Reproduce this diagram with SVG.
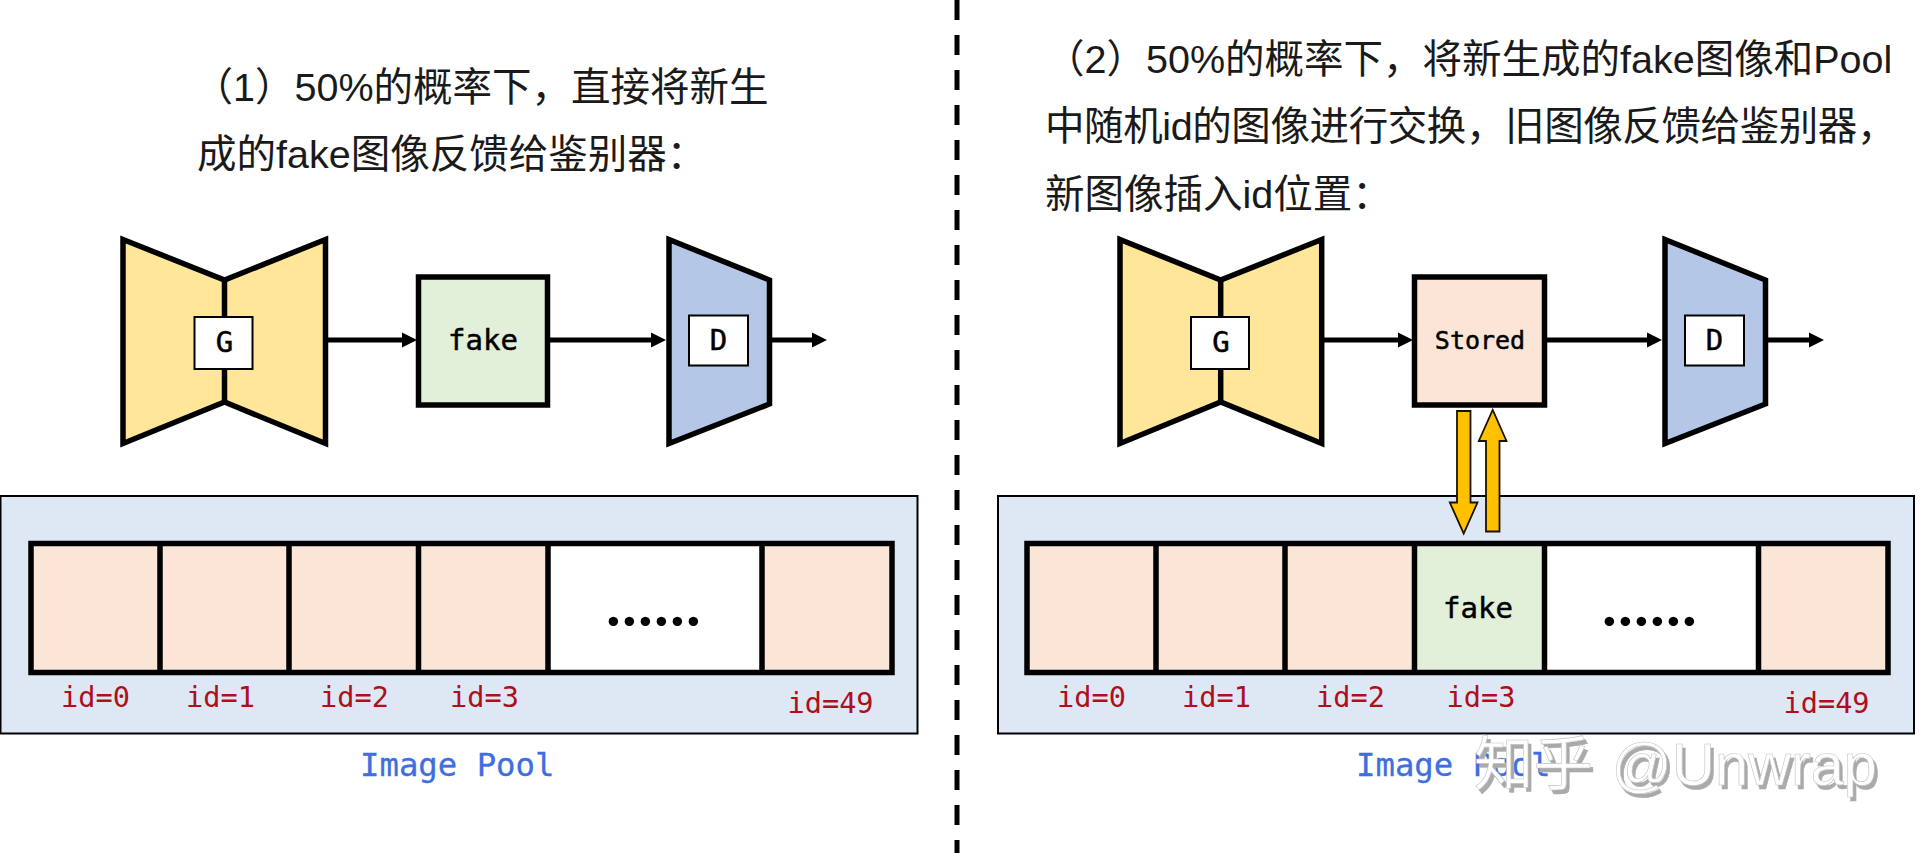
<svg xmlns="http://www.w3.org/2000/svg" width="1928" height="853" viewBox="0 0 1928 853">
<style>
.title{font-family:"Liberation Sans","Noto Sans CJK SC",sans-serif;font-size:39.5px;fill:#1a1a1a}
.net{stroke:#000;stroke-width:5.5;stroke-linejoin:miter;stroke-miterlimit:8}
.gen{fill:#FFE699}.dis{fill:#B4C7E7}
.lab{fill:#fff;stroke:#000;stroke-width:2}
.box{stroke:#000;stroke-width:5.5}
.peach{fill:#FBE5D6}.green{fill:#E2F0D9}.white{fill:#fff}
.panel{fill:#DEE8F5;stroke:#000;stroke-width:2}
.mono{font-family:"DejaVu Sans Mono",monospace;text-anchor:middle;fill:#000;stroke:#000;stroke-width:.5}
.k{font-size:29px}
.s{font-size:25px}
.id{font-family:"DejaVu Sans Mono",monospace;font-size:28.6px;fill:#AE0F1A}
.pool{font-family:"DejaVu Sans Mono",monospace;font-size:32.3px;fill:#3F6EE0;stroke:#3F6EE0;stroke-width:.3}
.dots{font-family:Lato,sans-serif;font-size:62px;font-weight:700;letter-spacing:1.3px;fill:#000}
.flow{stroke:#000;stroke-width:5;fill:none}
.swap{fill:#FFC000;stroke:#1A1200;stroke-width:1.8;stroke-linejoin:miter}
.div{stroke:#000;stroke-width:5;stroke-dasharray:20 15;fill:none}
.mark{font-family:"Liberation Sans","Noto Sans CJK SC",sans-serif;font-size:59.5px;word-spacing:2px;fill:#fff;stroke:#C4C4C4;stroke-width:.6;filter:url(#shade)}
</style>
<defs>
<marker id="ah" markerUnits="userSpaceOnUse" markerWidth="16" markerHeight="18" refX="0" refY="9" viewBox="0 0 16 18" orient="auto"><path d="M0,1.500 L15,9 L0,16.500 Z" fill="#000"/></marker>
<filter id="shade" x="-5%" y="-20%" width="110%" height="140%"><feDropShadow dx="3" dy="4" stdDeviation="0" flood-color="#AAAAAA"/></filter>
</defs>
<rect width="1928" height="853" fill="#fff"/>

<path id="divider" class="div" d="M957,0V853"/>

<g id="title-left">
<text class="title" x="193.500" y="101">（1）50%的概率下，直接将新生</text>
<text class="title" x="197" y="168">成的fake图像反馈给鉴别器：</text>
</g>
<g id="title-right">
<text class="title" x="1045" y="73">（2）50%的概率下，将新生成的fake图像和Pool</text>
<text class="title" x="1045" y="140" letter-spacing="-0.4">中随机id的图像进行交换，旧图像反馈给鉴别器，</text>
<text class="title" x="1045" y="208">新图像插入id位置：</text>
</g>

<g id="pool-left">
<rect class="panel" x="0.5" y="496" width="917" height="237.5"/>
<rect class="peach" x="31" y="543.5" width="129" height="129"/>
<rect class="peach" x="160" y="543.5" width="129" height="129"/>
<rect class="peach" x="289" y="543.5" width="130" height="129"/>
<rect class="peach" x="419" y="543.5" width="130" height="129"/>
<rect class="white" x="549" y="543.5" width="213" height="129"/>
<rect class="peach" x="762" y="543.5" width="130" height="129"/>
<path class="box" fill="none" d="M31,543.5H892V672.5H31ZM160,543.5V672.5M289,543.5V672.5M418.500,543.5V672.5M548,543.5V672.5M762,543.5V672.500"/>
<text class="dots" x="606" y="626">......</text>
<text class="id" x="61" y="706.500">id=0</text>
<text class="id" x="186" y="706.500">id=1</text>
<text class="id" x="320" y="706.500">id=2</text>
<text class="id" x="450" y="706.500">id=3</text>
<text class="id" x="787.500" y="712.500">id=49</text>
<text class="pool" x="360" y="776">Image Pool</text>
</g>

<g id="pool-right">
<rect class="panel" x="998" y="496" width="916" height="237.5"/>
<rect class="peach" x="1027" y="543.5" width="129" height="129"/>
<rect class="peach" x="1156" y="543.5" width="129" height="129"/>
<rect class="peach" x="1285" y="543.5" width="130" height="129"/>
<rect class="green" x="1415" y="543.5" width="130" height="129"/>
<rect class="white" x="1545" y="543.5" width="213" height="129"/>
<rect class="peach" x="1758" y="543.5" width="130" height="129"/>
<path class="box" fill="none" d="M1027,543.5H1888V672.5H1027ZM1156,543.5V672.5M1285,543.5V672.5M1414.500,543.5V672.5M1544.500,543.5V672.5M1758.500,543.5V672.500"/>
<text class="mono k" x="1478" y="617.500">fake</text>
<text class="dots" x="1602" y="626">......</text>
<text class="id" x="1057" y="706.500">id=0</text>
<text class="id" x="1182" y="706.500">id=1</text>
<text class="id" x="1316" y="706.500">id=2</text>
<text class="id" x="1446.500" y="706.500">id=3</text>
<text class="id" x="1783.500" y="712.500">id=49</text>
<text class="pool" x="1356" y="776">Image Pool</text>
</g>

<g id="connectors">
<path class="flow" marker-end="url(#ah)" d="M327,340H402"/>
<path class="flow" marker-end="url(#ah)" d="M547,340H651"/>
<path class="flow" marker-end="url(#ah)" d="M770,340H812"/>
<path class="flow" marker-end="url(#ah)" d="M1324,340H1398"/>
<path class="flow" marker-end="url(#ah)" d="M1544,340H1647"/>
<path class="flow" marker-end="url(#ah)" d="M1766,340H1809"/>
<path id="swap-down" class="swap" d="M1457,411H1470.500V502.500H1477.500L1463.700,533.500L1449.800,502.500H1457Z"/>
<path id="swap-up" class="swap" d="M1486,531.500H1499.500V441H1506.500L1492.700,410L1478.800,441H1486Z"/>
</g>

<g id="G-left">
<path class="net gen" d="M123,239.500L224.500,280L325.500,239.500V443.500L224.500,402L123,443.500Z"/>
<path class="net" d="M224.500,280V402"/>
<rect class="lab" x="194.500" y="317" width="58" height="52"/>
<text class="mono k" x="224.500" y="352">G</text>
</g>
<g id="fake-left">
<rect class="box green" x="418.500" y="277" width="129" height="128"/>
<text class="mono k" x="483" y="350">fake</text>
</g>
<g id="D-left">
<path class="net dis" d="M669,239.500L769.500,280V404L669,443.500Z"/>
<rect class="lab" x="689" y="315.500" width="59" height="50"/>
<text class="mono k" x="718.500" y="349.500">D</text>
</g>

<g id="G-right">
<path class="net gen" d="M1120,239.500L1220.700,280L1321.700,239.500V443.500L1220.700,402L1120,443.500Z"/>
<path class="net" d="M1220.700,280V402"/>
<rect class="lab" x="1191" y="317" width="58" height="52"/>
<text class="mono k" x="1221" y="352">G</text>
</g>
<g id="stored">
<rect class="box peach" x="1414.500" y="277" width="130" height="128"/>
<text class="mono s" x="1480" y="348.500">Stored</text>
</g>
<g id="D-right">
<path class="net dis" d="M1665,239.500L1765.500,280V404L1665,443.500Z"/>
<rect class="lab" x="1685" y="315.500" width="59" height="50"/>
<text class="mono k" x="1714.500" y="349.500">D</text>
</g>

<text id="watermark" class="mark" x="1474" y="785">知乎 @Unwrap</text>
</svg>
